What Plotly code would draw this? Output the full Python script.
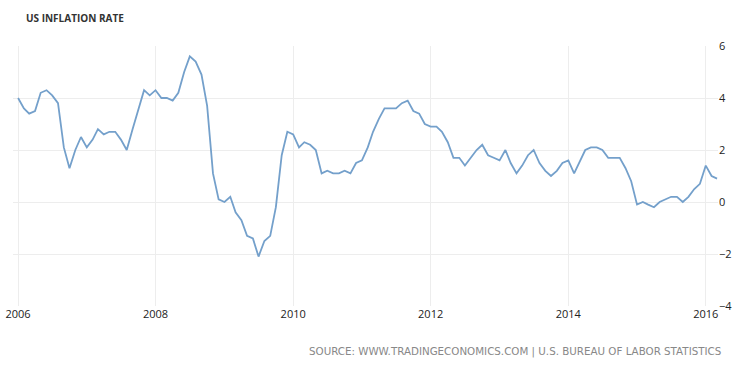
import plotly.graph_objects as go
import pandas as pd

dates = pd.date_range("2006-01-01", "2016-03-01", freq="MS")
inflation = [
    4.0, 3.6, 3.4, 3.5, 4.2, 4.3, 4.1, 3.8, 2.1, 1.3, 2.0, 2.5,   # 2006
    2.1, 2.4, 2.8, 2.6, 2.7, 2.7, 2.4, 2.0, 2.8, 3.5, 4.3, 4.1,   # 2007
    4.3, 4.0, 4.0, 3.9, 4.2, 5.0, 5.6, 5.4, 4.9, 3.7, 1.1, 0.1,   # 2008
    0.0, 0.2, -0.4, -0.7, -1.3, -1.4, -2.1, -1.5, -1.3, -0.2, 1.8, 2.7,  # 2009
    2.6, 2.1, 2.3, 2.2, 2.0, 1.1, 1.2, 1.1, 1.1, 1.2, 1.1, 1.5,   # 2010
    1.6, 2.1, 2.7, 3.2, 3.6, 3.6, 3.6, 3.8, 3.9, 3.5, 3.4, 3.0,   # 2011
    2.9, 2.9, 2.7, 2.3, 1.7, 1.7, 1.4, 1.7, 2.0, 2.2, 1.8, 1.7,   # 2012
    1.6, 2.0, 1.5, 1.1, 1.4, 1.8, 2.0, 1.5, 1.2, 1.0, 1.2, 1.5,   # 2013
    1.6, 1.1, 1.5, 2.0, 2.1, 2.1, 2.0, 1.7, 1.7, 1.7, 1.3, 0.8,   # 2014
    -0.1, 0.0, -0.1, -0.2, 0.0, 0.1, 0.2, 0.2, 0.0, 0.2, 0.5, 0.7,  # 2015
    1.4, 1.0, 0.9,                                                # 2016
]
x_ticks = ["2006-01-01", "2008-01-01", "2010-01-01", "2012-01-01", "2014-01-01", "2016-01-01"]
x_tick_labels = ["2006", "2008", "2010", "2012", "2014", "2016"]
y_ticks = [-4, -2, 0, 2, 4, 6]

L, R, T, B = 13, 32, 46, 69
W, H = 750, 375
plot_w = W - L - R
plot_h = H - T - B

def px_x(x):
    return (x - L) / plot_w

def px_y(y):
    return (H - B - y) / plot_h

fig = go.Figure()
fig.add_trace(go.Scatter(
    x=dates, y=inflation, mode="lines",
    line=dict(color="#74a0cb", width=1.8),
    hoverinfo="x+y", showlegend=False,
))

fig.update_layout(
    width=W, height=H,
    margin=dict(l=L, r=R, t=T, b=B),
    paper_bgcolor="white", plot_bgcolor="white",
    font=dict(family="Open Sans", size=11, color="#333333"),
    xaxis=dict(
        range=["2005-12-05", "2016-03-06"],
        tickvals=x_ticks, ticktext=x_tick_labels,
        showgrid=True, gridcolor="#ededed", gridwidth=1,
        zeroline=False, showline=False, ticks="", automargin=False,
        tickfont=dict(family="Open Sans", size=11, color="#222222"),
    ),
    yaxis=dict(
        range=[-4, 6], tickvals=y_ticks, side="right",
        showgrid=True, gridcolor="#ededed", gridwidth=1,
        zeroline=False, showline=False, ticks="", automargin=False,
        tickfont=dict(family="Open Sans", size=11, color="#222222"),
    ),
    annotations=[
        dict(text="<b>US INFLATION RATE</b>", x=px_x(24), y=px_y(18),
             xref="paper", yref="paper",
             showarrow=False, xanchor="left", yanchor="middle",
             font=dict(family="Open Sans", size=10, color="#333333")),
        dict(text="SOURCE: WWW.TRADINGECONOMICS.COM | U.S. BUREAU OF LABOR STATISTICS",
             x=px_x(723), y=px_y(351), xref="paper", yref="paper", showarrow=False,
             xanchor="right", yanchor="middle",
             font=dict(family="DejaVu Sans", size=10.3, color="#888888")),
    ],
)

fig.write_html("out.html", config={"displayModeBar": False})

# remove the default browser body margin so the figure sits at the page origin
with open("out.html", "r", encoding="utf-8") as f:
    html = f.read()
html = html.replace("<body>", '<body style="margin:0;overflow:hidden">', 1)
with open("out.html", "w", encoding="utf-8") as f:
    f.write(html)
